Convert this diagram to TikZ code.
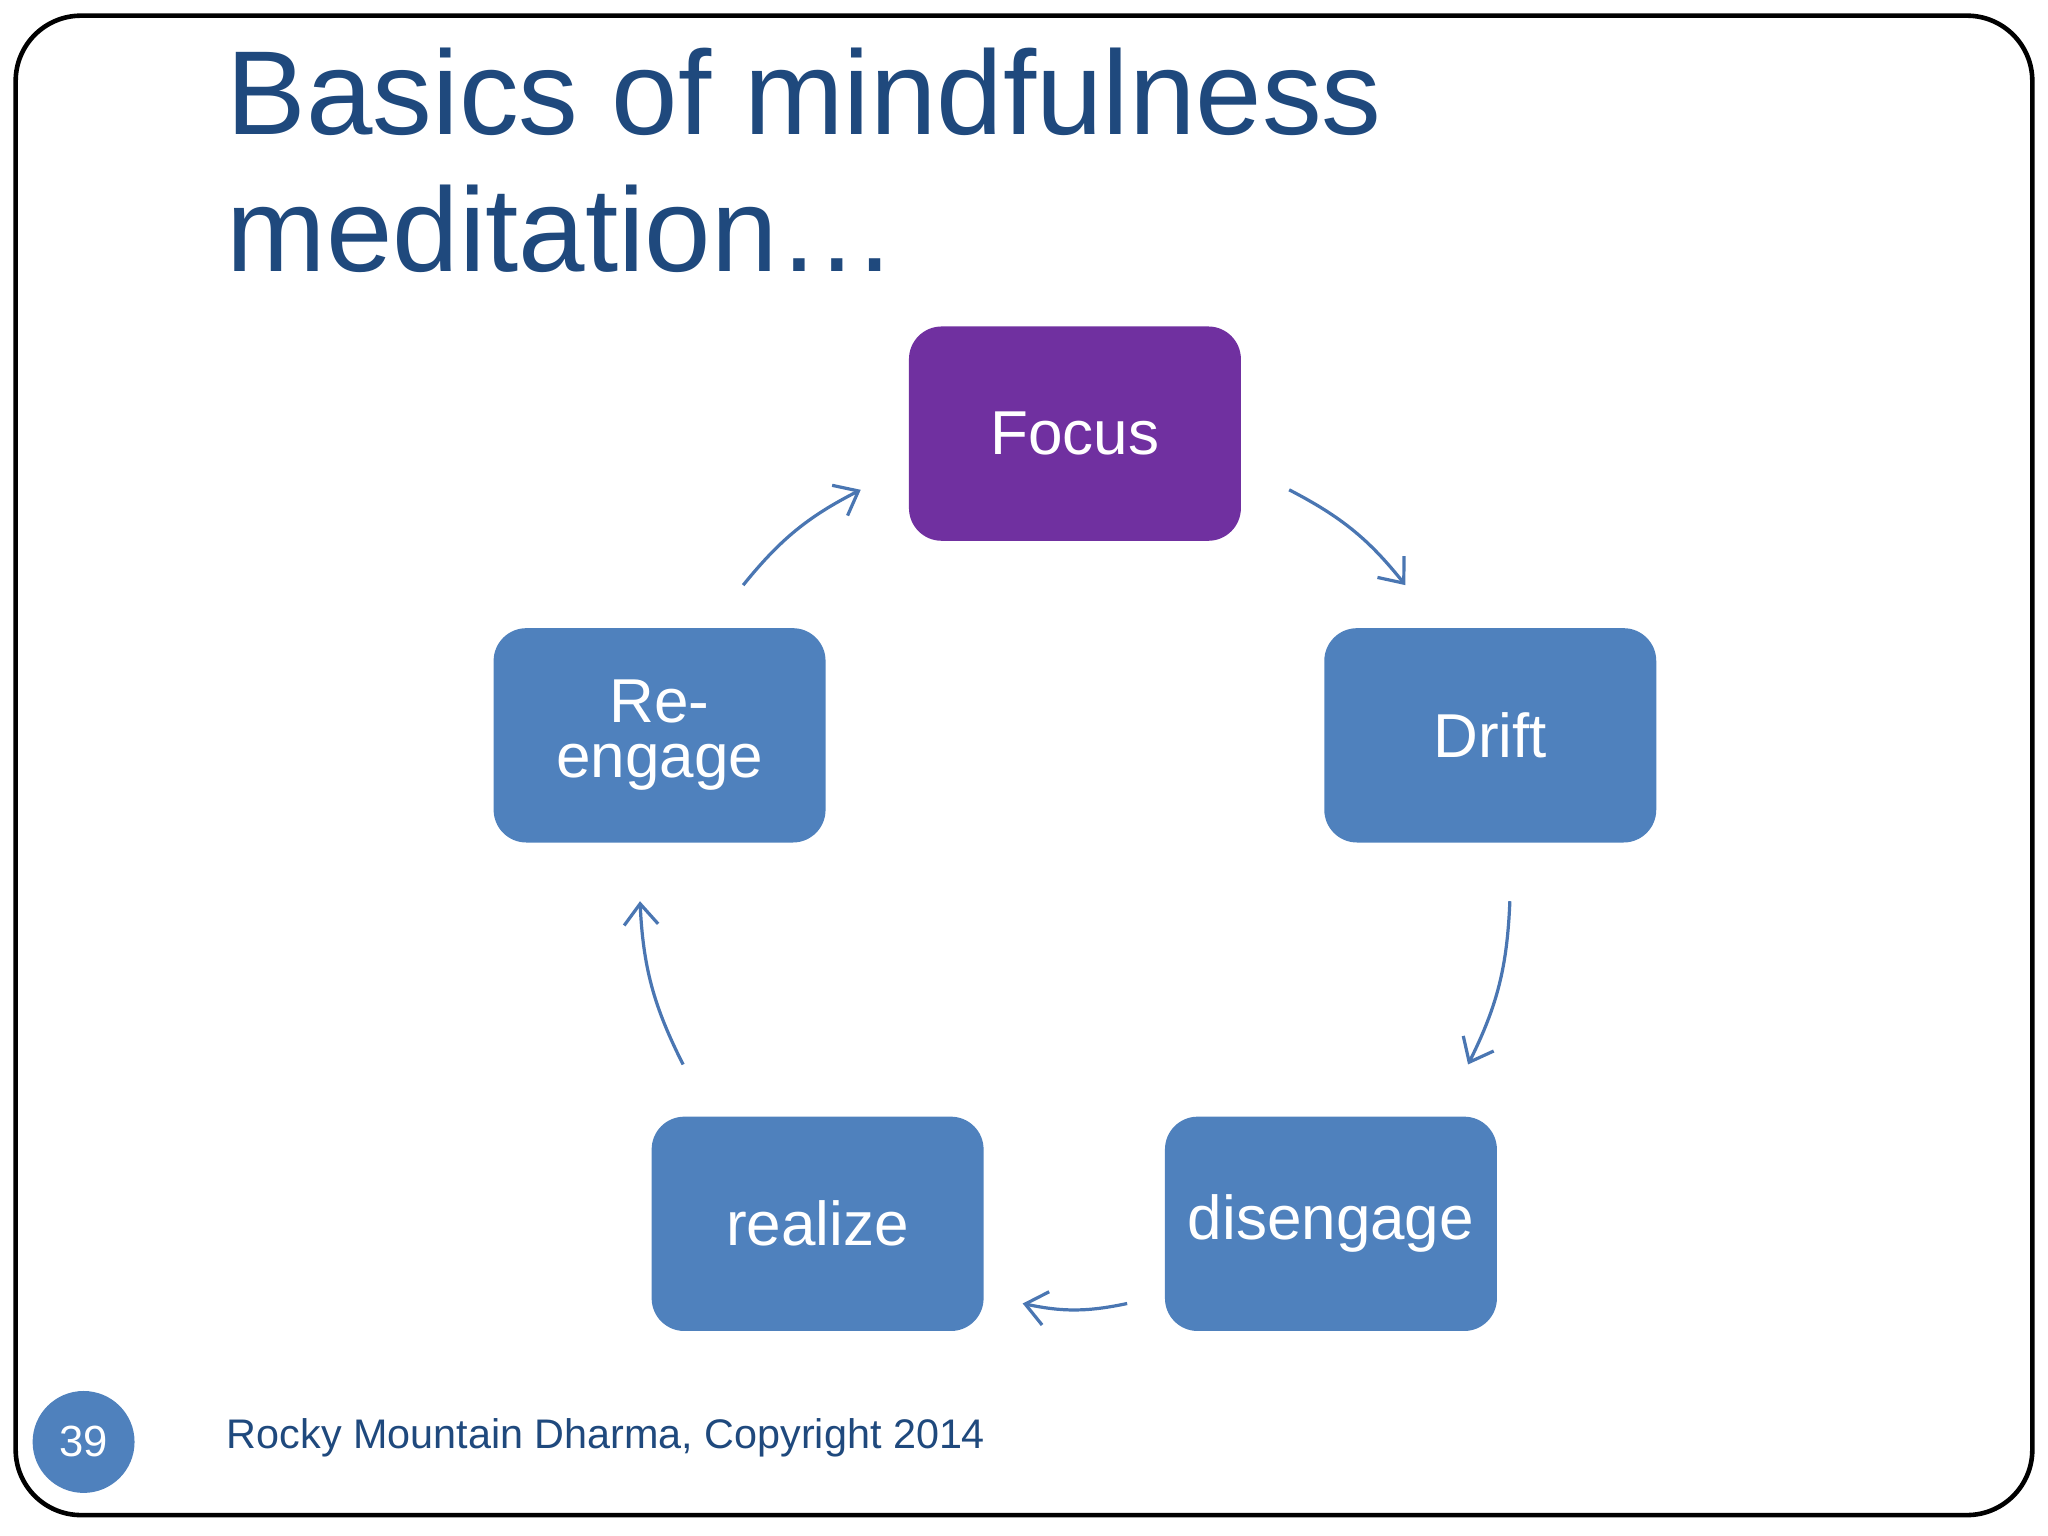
\documentclass[tikz,border=0pt]{standalone}
\usepackage{fontspec}
\setmainfont{Liberation Sans}
\usetikzlibrary{arrows.meta}
\definecolor{dblue}{RGB}{31,73,125}
\definecolor{bbox}{RGB}{79,129,189}
\definecolor{pbox}{RGB}{112,48,160}
\definecolor{arr}{RGB}{74,118,178}
\begin{document}
\begin{tikzpicture}[x=0.01cm,y=-0.01cm,
  box/.style={draw=none,fill=bbox,rounded corners=0.25cm,minimum width=2.54cm,minimum height=1.64cm,text=white,font=\fontsize{13.5}{15}\selectfont,align=center,text width=2.3cm},
  arw/.style={draw=arr,line width=0.7pt,-{Straight Barb[length=1.6mm,width=2.6mm]}}]
\useasboundingbox (0,0) rectangle (1568,1176);
\draw[line width=1pt,rounded corners=0.5cm] (12,12) rectangle (1556,1160);
\node[anchor=base west,text=dblue,font=\fontsize{26}{30}\selectfont,inner sep=0] (t1) at (173,103) {Basics of mindfulness};
\node[anchor=base west,text=dblue,font=\fontsize{26}{30}\selectfont,inner sep=0] (t2) at (173,208) {meditation…};
\node[box,fill=pbox] (focus) at (823,332) {Focus};
\node[box] (drift) at (1141,563) {Drift};
\node[box] (reng) at (505,563) {Re-\\[-3pt]engage};
\node[box] (real) at (626,937) {realize};
\node[box] (dis) at (1019,937) {disengage};
\coordinate (a1) at (987,375); \coordinate (b1) at (1076,448);
\coordinate (a2) at (1156,690); \coordinate (b2) at (1124,815);
\coordinate (a3) at (863,998); \coordinate (b3) at (783,998);
\coordinate (a4) at (523,815); \coordinate (b4) at (490,690);
\coordinate (a5) at (569,448); \coordinate (b5) at (659,375);
\draw[arw] (a1) to[bend left=12] (b1);
\draw[arw] (a2) to[bend left=12] (b2);
\draw[arw] (a3) to[bend left=12] (b3);
\draw[arw] (a4) to[bend left=12] (b4);
\draw[arw] (a5) to[bend left=12] (b5);
\node[circle,fill=bbox,minimum size=0.78cm,inner sep=0,text=white,font=\fontsize{9.5}{11}\selectfont] (pg) at (64,1104) {39};
\node[anchor=base west,text=dblue,font=\fontsize{9}{11}\selectfont,inner sep=0] (ft) at (173,1109) {Rocky Mountain Dharma, Copyright 2014};
\end{tikzpicture}
\end{document}
